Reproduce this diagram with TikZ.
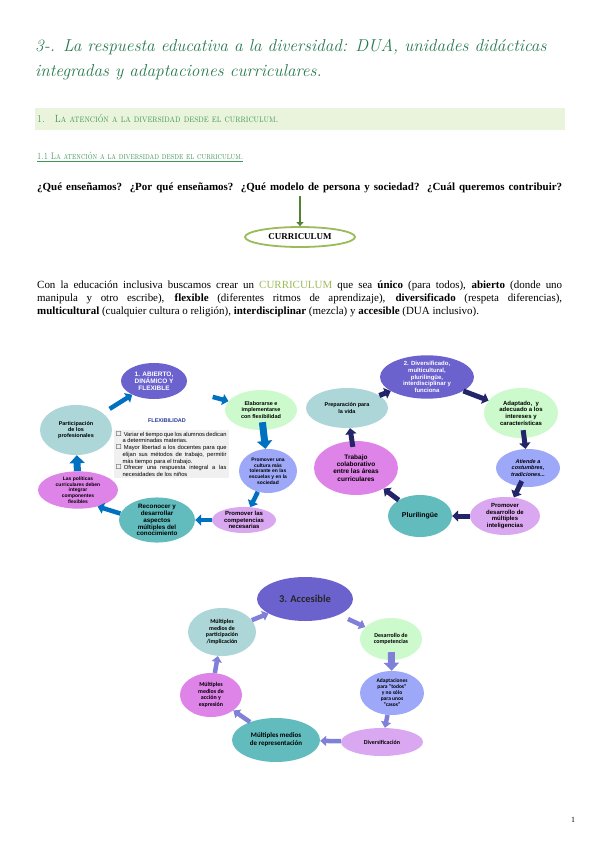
\documentclass[tikz,border=0pt]{standalone}
\usepackage{fontspec}
\usepackage{amssymb}
\usetikzlibrary{shapes.geometric,arrows.meta,positioning}
\newfontfamily\bodyfont{Liberation Serif}
\newfontfamily\diafont{Liberation Sans}
\newfontfamily\calfont{Carlito}
\definecolor{titlegreen}{RGB}{40,122,78}
\definecolor{headgreen}{RGB}{64,150,88}
\definecolor{bandgreen}{RGB}{234,244,220}
\definecolor{currgreen}{RGB}{155,187,89}
\definecolor{arrowgreen}{RGB}{84,130,53}
\definecolor{bubpurple}{RGB}{108,98,206}
\definecolor{bubgreen}{RGB}{204,250,204}
\definecolor{bubblue}{RGB}{158,168,248}
\definecolor{bubplum}{RGB}{218,168,240}
\definecolor{bubteal}{RGB}{98,188,190}
\definecolor{buborchid}{RGB}{222,132,232}
\definecolor{bubpale}{RGB}{172,214,216}
\definecolor{flowblue}{RGB}{0,112,192}
\definecolor{flownavy}{RGB}{36,36,104}
\definecolor{flowslate}{RGB}{128,128,216}
\definecolor{flexnavy}{RGB}{40,60,150}
\tikzset{
  bub/.style={ellipse, inner sep=0pt, align=center,
    font=\diafont\bfseries\fontsize{5}{5.7}\selectfont},
  dims/.style 2 args={minimum width=#1, minimum height=#2},
  bubc/.style={bub, font=\calfont\bfseries\fontsize{6}{6.6}\selectfont},
  flowA/.style={draw=flowblue, line width=4.5bp, -{Triangle[length=6bp,width=11bp]}},
  flowB/.style={draw=flownavy, line width=5bp, -{Triangle[length=6bp,width=11bp]}},
  flowC/.style={draw=flowslate, line width=4.5bp, -{Triangle[length=6bp,width=10bp]}},
  flowthick/.style={line width=7bp, -{Triangle[length=8bp,width=15bp]}},
  body/.style={inner sep=0pt, font=\bodyfont\fontsize{11}{13}\selectfont}
}
\begin{document}
\begin{tikzpicture}[x=1bp,y=-1bp]
\useasboundingbox (0,0) rectangle (599,848);
\fill[white] (0,0) rectangle (599,848);
% title
\node[anchor=base west, inner sep=0pt, text=titlegreen, font=\itshape\fontsize{17.3}{20}\selectfont] (title1) at (35,51)
  {3-. La respuesta educativa a la diversidad: DUA, unidades didácticas};
\node[anchor=base west, inner sep=0pt, text=titlegreen, font=\itshape\fontsize{17.3}{20}\selectfont] (title2) at (35,76)
  {integradas y adaptaciones curriculares.};
% section band
\fill[bandgreen] (35,108) rectangle (565,130);
\node[anchor=west, inner sep=0pt, text=headgreen, font=\scshape\fontsize{10.5}{12}\selectfont] (sec) at (37,119)
  {\scalebox{0.84}[1]{1.\hspace{12bp}La atención a la diversidad desde el curriculum.}};
\node[anchor=west, inner sep=0pt, text=headgreen, font=\scshape\fontsize{9.5}{11}\selectfont] (subsec) at (37,157)
  {\scalebox{0.8}[1]{\underline{1.1 La atención a la diversidad desde el curriculum.}}};
% question and curriculum
\node[body, anchor=base west, font=\bodyfont\bfseries\fontsize{11}{13}\selectfont] (ques) at (37,190)
  {\makebox[525bp][s]{¿Qué enseñamos? ¿Por qué enseñamos? ¿Qué modelo de persona y sociedad? ¿Cuál queremos contribuir?}};
\coordinate (qfoot) at (300,196);
\node[ellipse, draw=currgreen, line width=1.8bp, minimum width=110bp, minimum height=20bp, inner sep=0pt,
  font=\bodyfont\bfseries\fontsize{9}{10}\selectfont] (curr) at (300,237) {CURRICULUM};
\draw[arrowgreen, line width=2.5bp, -{Triangle[length=4bp,width=7bp]}] (qfoot) -- (curr);
% paragraph
\node[body, anchor=north west, text width=525bp, align=justify] (para) at (37,281)
  {Con la educación inclusiva buscamos crear un \textcolor{currgreen}{CURRICULUM} que sea \textbf{único} (para todos), \textbf{abierto} (donde uno\linebreak
  manipula y otro escribe), \textbf{flexible} (diferentes ritmos de aprendizaje), \textbf{diversificado} (respeta diferencias),\linebreak
  \textbf{multicultural} (cualquier cultura o religión), \textbf{interdisciplinar} (mezcla) y \textbf{accesible} (DUA inclusivo).};

% diagram 1: abierto, dinamico y flexible
\node[bub, fill=bubpurple, text=white, dims={66bp}{36bp}, font=\diafont\bfseries\fontsize{6.5}{7.2}\selectfont] (abierto) at (154,381)
  {1. ABIERTO,\\DINÁMICO Y\\FLEXIBLE};
\node[bub, fill=bubgreen, dims={72bp}{40bp}, font=\diafont\bfseries\fontsize{5.5}{6.3}\selectfont] (elab) at (261,410)
  {Elaborarse e\\implementarse\\con flexibilidad};
\node[bub, fill=bubblue, dims={58bp}{44bp}] (cultura) at (268,471)
  {Promover una\\cultura más\\tolerante en las\\escuelas y en la\\sociedad};
\node[bub, fill=bubplum, dims={64bp}{26bp}, font=\diafont\bfseries\fontsize{6}{6.6}\selectfont] (compet) at (244,520)
  {Promover las\\competencias\\necesarias};
\node[bub, fill=bubteal, dims={76bp}{44bp}, font=\diafont\bfseries\fontsize{6.3}{6.9}\selectfont] (reconoc) at (157,520)
  {Reconocer y\\desarrollar\\aspectos\\múltiples del\\conocimiento};
\node[bub, fill=buborchid, dims={80bp}{36bp}] (politicas) at (78,490)
  {Las políticas\\curriculares deben\\integrar\\componentes\\flexibles};
\node[bub, fill=bubpale, dims={72bp}{50bp}, font=\diafont\bfseries\fontsize{5.5}{6.3}\selectfont] (particip) at (76,430)
  {Participación\\de los\\profesionales};
\node[inner sep=0pt, text=flexnavy, font=\diafont\bfseries\fontsize{5.5}{6}\selectfont] (flextitle) at (167,421) {FLEXIBILIDAD};
\node[fill=black!6, inner sep=2bp, font=\diafont\fontsize{5.8}{6.7}\selectfont] (flexlist) at (171,454)
  {\begin{minipage}{111bp}
   \begin{list}{$\square$}{\setlength\leftmargin{7bp}\setlength\labelwidth{5bp}\setlength\labelsep{2bp}%
     \setlength\itemsep{0pt}\setlength\parsep{0pt}\setlength\topsep{0pt}}
   \item Variar el tiempo que los alumnos dedican a determinadas materias.
   \item Mayor libertad a los docentes para que elijan sus métodos de trabajo, permitir más tiempo para el trabajo.
   \item Ofrecer una respuesta integral a las necesidades de los niños
   \end{list}
   \end{minipage}};
\draw[flowA, shorten <=8bp] (particip) -- (abierto);
\draw[flowA, shorten <=30bp] (abierto) -- (elab);
\draw[flowA, flowthick, shorten <=-8bp] (elab) -- (cultura);
\draw[flowA] (cultura) -- (compet);
\draw[flowA] (compet) -- (reconoc);
\draw[flowA] (reconoc.170) -- (politicas.-40);
\draw[flowA, flowthick] (politicas) -- (particip);

% diagram 2: diversificado
\node[bub, fill=bubpurple, text=white, dims={94bp}{42bp}, font=\diafont\bfseries\fontsize{6}{6.6}\selectfont] (divers) at (427,377)
  {2. Diversificado,\\multicultural,\\plurilingüe,\\interdisciplinar y\\funciona};
\node[bub, fill=bubgreen, dims={74bp}{50bp}, font=\diafont\bfseries\fontsize{6}{6.6}\selectfont] (adapt) at (521,413)
  {Adaptado, \ y\\adecuado a los\\intereses y\\características};
\node[bub, fill=bubblue, dims={64bp}{38bp}, font=\diafont\bfseries\itshape\fontsize{5.5}{6.3}\selectfont] (atiende) at (528,468)
  {Atiende a\\costumbres,\\tradiciones...};
\node[bub, fill=bubplum, dims={70bp}{38bp}, font=\diafont\bfseries\fontsize{6}{6.6}\selectfont] (promover) at (505,516)
  {Promover\\desarrollo de\\múltiples\\inteligencias};
\node[bub, fill=bubteal, dims={64bp}{42bp}, font=\diafont\bfseries\fontsize{7}{8}\selectfont] (pluri) at (420,516)
  {Plurilingüe};
\node[bub, fill=buborchid, dims={84bp}{54bp}, font=\diafont\bfseries\fontsize{6.5}{7.2}\selectfont] (trabajo) at (356,468)
  {Trabajo\\colaborativo\\entre las áreas\\curriculares};
\node[bub, fill=bubpale, dims={82bp}{40bp}, font=\diafont\bfseries\fontsize{5.5}{6.3}\selectfont] (prepar) at (347,408)
  {Preparación para\\la vida};
\draw[flowB] (prepar) -- (divers);
\draw[flowB] (divers) -- (adapt);
\draw[flowB, shorten <=-8bp] (adapt) -- (atiende);
\draw[flowB, shorten <=-6bp] (atiende) -- (promover);
\draw[flowB] (promover) -- (pluri);
\draw[flowB] (pluri) -- (trabajo);
\draw[flowB, shorten <=-6bp] (trabajo) -- (prepar);

% diagram 3: accesible
\node[bub, fill=bubpurple, text=black!85, dims={96bp}{44bp}, font=\calfont\bfseries\fontsize{10.5}{11}\selectfont] (acces) at (305,599)
  {3. Accesible};
\node[bubc, fill=bubgreen, dims={62bp}{42bp}] (desarr) at (391,639)
  {Desarrollo de\\competencias};
\node[bubc, fill=bubblue, dims={64bp}{44bp}, font=\calfont\bfseries\fontsize{5.5}{6}\selectfont] (adaptac) at (392,693)
  {Adaptaciones\\para “todos”\\y no sólo\\para unos\\“casos”};
\node[bubc, fill=bubplum, dims={82bp}{28bp}] (diversif) at (382,742)
  {Diversificación};
\node[bubc, fill=bubteal, dims={88bp}{44bp}, font=\calfont\bfseries\fontsize{7}{8}\selectfont] (repres) at (276,740)
  {Múltiples medios\\de representación};
\node[bubc, fill=buborchid, dims={62bp}{44bp}] (accion) at (211,695)
  {Múltiples\\medios de\\acción y\\expresión};
\node[bubc, fill=bubpale, dims={68bp}{48bp}] (partic3) at (222,632)
  {Múltiples\\medios de\\participación\\/implicación};
\draw[flowC] (partic3) -- (acces);
\draw[flowC, shorten <=10bp] (acces) -- (desarr);
\draw[flowC, flowthick, shorten <=-8bp] (desarr) -- (adaptac);
\draw[flowC] (adaptac) -- (diversif);
\draw[flowC] (diversif) -- (repres);
\draw[flowC] (repres) -- (accion);
\draw[flowC] (accion) -- (partic3);

% page number
\node[inner sep=0pt, font=\bodyfont\fontsize{8}{9}\selectfont] (pagenum) at (573,820) {1};
\end{tikzpicture}
\end{document}
